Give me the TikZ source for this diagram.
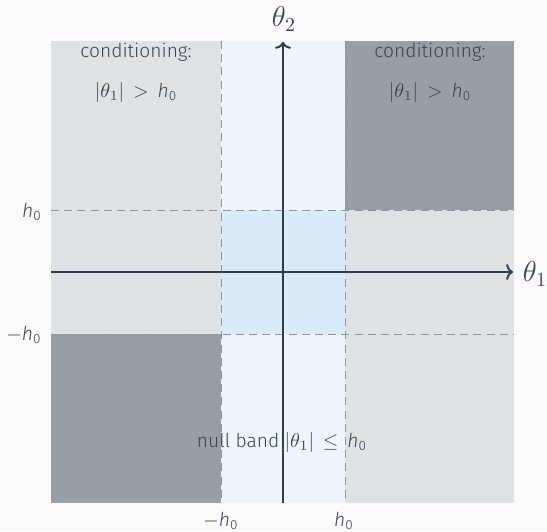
\documentclass[tikz,border=0pt]{standalone}
\usepackage{amsmath}
\usepackage{fontspec}
\setmainfont{Fira Sans Light}
\usetikzlibrary{arrows.meta}
\definecolor{pagebg}{HTML}{FAFAFA}
\definecolor{lightgr}{HTML}{DFE2E5}
\definecolor{darkgr}{HTML}{979EA6}
\definecolor{bandbl}{HTML}{EEF5FC}
\definecolor{centerbl}{HTML}{D9EAF8}
\definecolor{axiscol}{HTML}{2E3E52}
\definecolor{dashcol}{HTML}{8E949B}
\definecolor{txtcol}{HTML}{3A4656}
\newcommand{\hzero}{\mathit{h}_{\mathrm{0}}}
\begin{document}
\begin{tikzpicture}[x=0.5pt,y=-0.5pt,
  lbl/.style={text=txtcol,font=\fontsize{9.6}{11}\selectfont,inner sep=1pt},
  axlbl/.style={text=txtcol,font=\fontsize{14.5}{17}\selectfont,inner sep=1pt},
  guide/.style={draw=dashcol,line width=0.5pt,dash pattern=on 4pt off 2.6pt},
  axis/.style={draw=axiscol,line width=1pt,-{To[length=3.4pt,width=8pt,line width=1pt]}}]
\useasboundingbox[fill=pagebg] (0,0) rectangle (547,531);
% regions
\fill[lightgr] (51,41) rectangle (514,503);
\fill[darkgr] (345,41) rectangle (514,210);
\fill[darkgr] (51,334) rectangle (221,503);
\fill[bandbl] (221,41) rectangle (345,503);
\fill[centerbl] (221,210) rectangle (345,334);
% guides
\draw[guide] (221,41) -- (221,503);
\draw[guide] (345,41) -- (345,503);
\draw[guide] (51,210) -- (514,210);
\draw[guide] (51,334) -- (514,334);
% axes
\coordinate (xs) at (51,272);
\coordinate (xe) at (513,272);
\coordinate (ys) at (283,503);
\coordinate (ye) at (283,42);
\draw[axis] (xs) -- (xe);
\draw[axis] (ys) -- (ye);
\node[axlbl] (t1) at (535,274) {$\theta_1$};
\node[axlbl] (t2) at (284,19) {$\theta_2$};
% tick labels
\node[lbl] (hl) at (32,212) {$\hzero$};
\node[lbl] (mhl) at (24,335) {$-\hzero$};
\node[lbl] (mhb) at (221,521) {$-\hzero$};
\node[lbl] (hb) at (344,521) {$\hzero$};
% region texts
\node[lbl] (c1) at (136,52) {conditioning:};
\node[lbl] (f1) at (136,92) {$\lvert\theta_1\rvert \mathrel{\,>\,} \hzero$};
\node[lbl] (c2) at (430,52) {conditioning:};
\node[lbl] (f2) at (430,92) {$\lvert\theta_1\rvert \mathrel{\,>\,} \hzero$};
\node[lbl] (nb) at (282,442) {null band $\lvert\theta_1\rvert \mathrel{\,\le\,} \hzero$};
\end{tikzpicture}
\end{document}
